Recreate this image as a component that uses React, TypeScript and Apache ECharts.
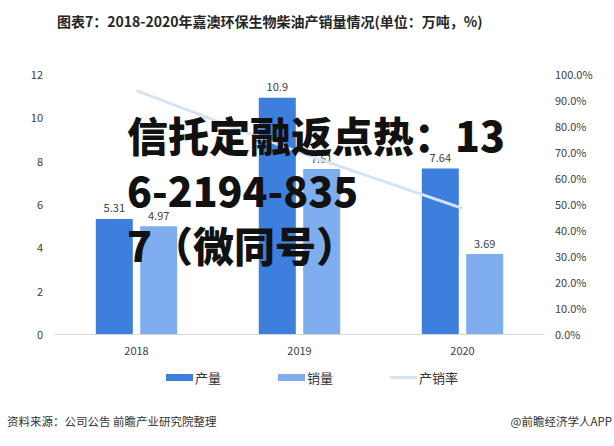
import React, { useEffect, useRef } from "react";
import * as echarts from "echarts";

const categories = ["2018", "2019", "2020"];
const production = [5.31, 10.9, 7.64];
const sales = [4.97, 7.61, 3.69];
const ratio = [0.936, 0.698, 0.483];
const titleText = "图表7：2018-2020年嘉澳环保生物柴油产销量情况(单位：万吨，%)";
const overlayText = "信托定融返点热：13\n6-2194-835\n7（微同号）";
const sourceText = "资料来源：公司公告 前瞻产业研究院整理";
const brandText = "@前瞻经济学人APP";

const FONT = "'Noto Sans CJK SC', 'Noto Sans', sans-serif";
const LINE_ICON =
  "path://M0,0L27,0L27,0.05L0,0.05ZM0,2L27,2L27,5L0,5ZM0,6.95L27,6.95L27,7L0,7Z";

export default function App() {
  const ref = useRef<HTMLDivElement>(null);
  useEffect(() => {
    if (!ref.current) return;
    const chart = echarts.init(ref.current, undefined, { renderer: "svg" });
    chart.setOption({
      animation: false,
      backgroundColor: "#ffffff",
      textStyle: { fontFamily: FONT },
      title: {
        text: titleText,
        left: 52,
        top: 9,
        textStyle: { fontSize: 14, fontWeight: "bold", color: "#262626", fontFamily: FONT },
      },
      legend: {
        left: 161,
        top: 366,
        itemWidth: 27,
        itemHeight: 7,
        itemGap: 57,
        textStyle: { fontSize: 13, color: "#333", fontFamily: FONT, padding: [0, 0, 0, -3] },
        data: [
          { name: "产量", icon: "rect" },
          { name: "销量", icon: "rect" },
          { name: "产销率", icon: LINE_ICON, itemStyle: { color: "#d5e3f5" } },
        ],
      },
      grid: { left: 55, right: 70, top: 74, bottom: 112 },
      xAxis: {
        type: "category",
        data: categories,
        axisLine: { lineStyle: { color: "#d9d9d9" } },
        axisTick: { show: false },
        axisLabel: { fontSize: 11, color: "#404040", margin: 10 },
      },
      yAxis: [
        {
          type: "value",
          min: 0,
          max: 12,
          interval: 2,
          axisLine: { show: false },
          axisTick: { show: false },
          splitLine: { show: false },
          axisLabel: { fontSize: 11, color: "#404040", margin: 12 },
        },
        {
          type: "value",
          min: 0,
          max: 1,
          interval: 0.1,
          axisLine: { show: false },
          axisTick: { show: false },
          splitLine: { show: false },
          axisLabel: {
            fontSize: 11,
            color: "#404040",
            margin: 11,
            formatter: (v: number) => (v * 100).toFixed(1) + "%",
          },
        },
      ],
      series: [
        {
          name: "产量",
          type: "bar",
          data: production,
          barWidth: 37,
          barGap: "20%",
          itemStyle: { color: "#3d7fdc" },
          label: { show: true, position: "top", fontSize: 11, color: "#404040", distance: 6 },
        },
        {
          name: "销量",
          type: "bar",
          data: sales,
          barWidth: 37,
          barGap: "20%",
          itemStyle: { color: "#7faeef" },
          label: { show: true, position: "top", fontSize: 11, color: "#404040", distance: 6 },
        },
        {
          name: "产销率",
          type: "line",
          yAxisIndex: 1,
          data: ratio,
          symbol: "none",
          itemStyle: { color: "#d5e3f5" },
          lineStyle: { color: "#d5e3f5", width: 3 },
          z: 3,
        },
      ],
      graphic: [
        {
          type: "text",
          left: 127,
          top: 106,
          z: 100,
          style: {
            text: overlayText,
            fontSize: 41,
            fontWeight: 900,
            fontFamily: FONT,
            fill: "#111111",
            lineHeight: 55,
          },
        },
        {
          type: "text",
          left: 7,
          top: 415,
          style: { text: sourceText, fontSize: 11.5, fill: "#333333", fontFamily: FONT },
        },
        {
          type: "text",
          right: 2,
          top: 415,
          style: { text: brandText, fontSize: 11.5, fill: "#333333", fontFamily: FONT },
        },
      ],
    });
    return () => chart.dispose();
  }, []);
  return (
    <div
      ref={ref}
      style={{ position: "fixed", left: 0, top: 0, width: 614, height: 446 }}
    />
  );
}
